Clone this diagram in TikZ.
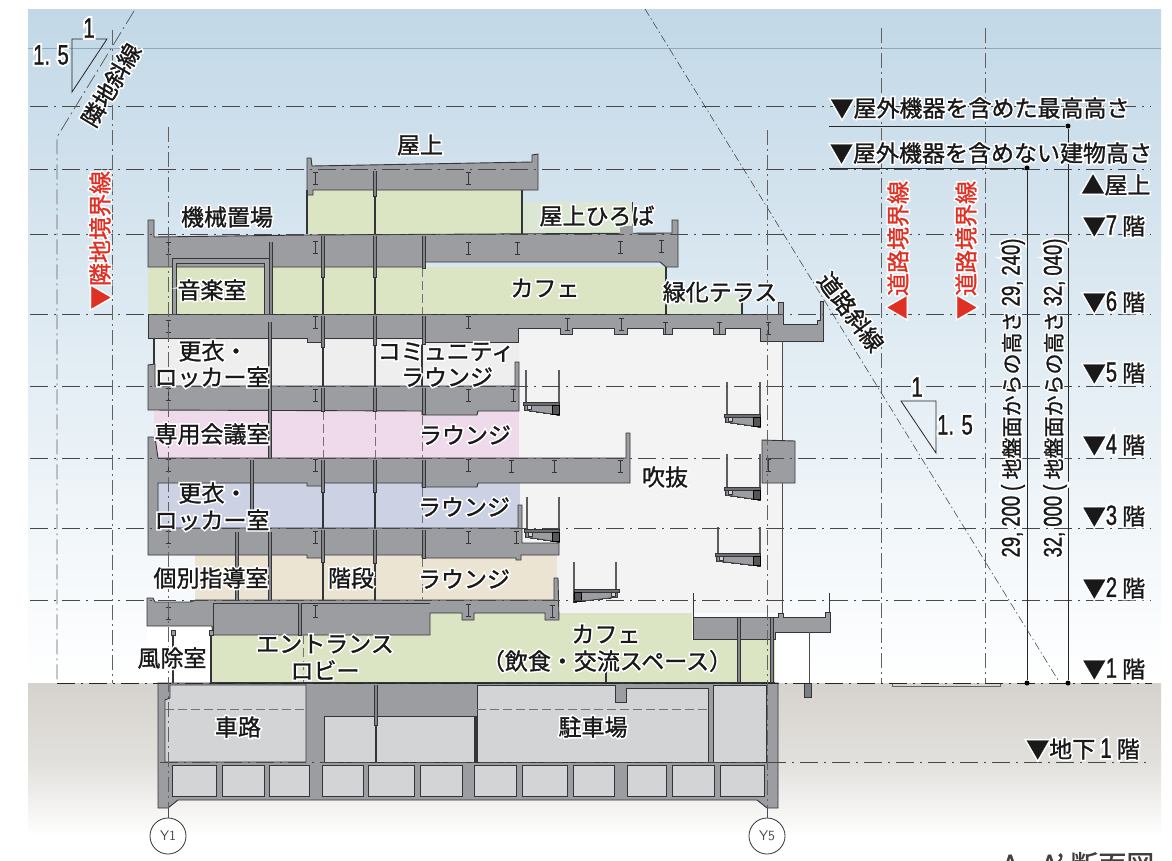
\documentclass[tikz,border=0pt]{standalone}
\usepackage{fontspec}
\setmainfont{Noto Sans CJK JP}
\newfontfamily\jpfont[FakeBold=1.2]{Noto Sans CJK JP}
\newfontfamily\jphalo[FakeBold=15]{Noto Sans CJK JP}
\newfontfamily\cfont[FakeStretch=0.72,FakeBold=1.0,Scale=1.22]{Liberation Sans}
\newfontfamily\chalo[FakeStretch=0.72,FakeBold=15,Scale=1.22]{Liberation Sans}
\newif\ifhalomode
\newcommand\cnd[1]{{\ifhalomode\chalo\else\cfont\fi #1}}
\newcommand\hl[1]{\leavevmode\makebox[0pt][l]{\halomodetrue\jphalo\color{white}#1}{\halomodefalse\jpfont #1}}
\newcommand\hlred[1]{\leavevmode\makebox[0pt][l]{\halomodetrue\jphalo\color{white}#1}{\halomodefalse\jpfont\color{redt}#1}}
\definecolor{slabc}{HTML}{9C9DA1}
\definecolor{edgec}{HTML}{343538}
\definecolor{greenr}{HTML}{DBE4C3}
\definecolor{greenl}{HTML}{DCE7D3}
\definecolor{grayr}{HTML}{EEEEEE}
\definecolor{pinkr}{HTML}{EEDAEA}
\definecolor{lavr}{HTML}{CDD1E4}
\definecolor{beiger}{HTML}{EBE4D2}
\definecolor{atrium}{HTML}{F3F3F3}
\definecolor{subr}{HTML}{D3D4D6}
\definecolor{redt}{HTML}{E03024}
\definecolor{sky1}{HTML}{C2D8E7}
\definecolor{sky2}{HTML}{DBE8F2}
\definecolor{skyline}{HTML}{8FA9BB}
\definecolor{gr1}{HTML}{D6D3CE}
\definecolor{gr2}{HTML}{E2E0DC}
\tikzset{
 slab/.style={fill=slabc,draw=edgec,line width=0.9pt,line join=miter},
 subroom/.style={fill=subr,draw=edgec,line width=0.9pt},
 lev/.style={draw=black!72,line width=0.8pt,dash pattern=on 18pt off 6pt on 2pt off 6pt},
 axis/.style={draw=black!62,line width=0.8pt,dash pattern=on 15pt off 4pt on 2pt off 4pt},
 slant/.style={draw=black!75,line width=0.55pt,dash pattern=on 8pt off 3pt on 1.5pt off 3pt},
 wall/.style={draw=edgec,line width=1.1pt},
 dashwall/.style={draw=black!55,line width=0.8pt,dash pattern=on 9pt off 4pt},
 dim/.style={draw=black!85,line width=0.9pt},
 dimdot/.style={circle,fill=black,inner sep=0pt,minimum size=5pt},
 lab/.style={inner sep=0pt,font=\fontsize{23}{25}\selectfont,text=black!90},
 gridc/.style={circle,draw=black!80,fill=white,line width=0.8pt,minimum size=36pt,inner sep=0pt,font=\fontsize{14}{16}\sffamily\selectfont,text=black!70},
}
\newcommand\colbar[3]{\fill[slabc!85!black] (#1-1.8,#2) rectangle (#1+1.8,#3);\draw[edgec,line width=0.7pt] (#1-1.8,#2)--(#1-1.8,#3)--(#1+1.8,#3)--(#1+1.8,#2);}
\newcommand\ibeam[2]{\draw[edgec,line width=0.9pt] (#1,#2-6)--(#1,#2+6) (#1-2.5,#2-6)--(#1+2.5,#2-6) (#1-2.5,#2+6)--(#1+2.5,#2+6);}
\newcommand\stair[4]{%
 \draw[edgec!80,line width=1.5pt] (#1,#3)--(#1,#4+1);
 \draw[edgec!80,line width=1.5pt] (#2,#3)--(#2,#4+12);
 \draw[fill=slabc,draw=edgec,line width=0.6pt] (#1-1,#4+3)--(#2,#4+3)--(#2,#4+13)--(#1-1,#4+8)--cycle;
 \draw[fill=slabc!70!black,draw=edgec,line width=0.7pt] (#1-3,#4)rectangle(#2,#4+3);
 \draw[fill=subr,draw=edgec,line width=0.6pt] (#1+1,#4+3.5)rectangle(#1+5,#4+7);
 \draw[fill=slabc!55!black,draw=black,line width=0.8pt] (#2-7,#4+3)rectangle(#2,#4+12);}
\newcommand\stairM[4]{%
 \draw[edgec!80,line width=1.5pt] (#1,#3)--(#1,#4+12);
 \draw[edgec!80,line width=1.5pt] (#2,#3)--(#2,#4+1);
 \draw[fill=slabc,draw=edgec,line width=0.6pt] (#1,#4+3)--(#2+1,#4+3)--(#2+1,#4+8)--(#1,#4+13)--cycle;
 \draw[fill=slabc!70!black,draw=edgec,line width=0.7pt] (#1,#4)rectangle(#2+3,#4+3);
 \draw[fill=subr,draw=edgec,line width=0.6pt] (#2-5,#4+3.5)rectangle(#2-1,#4+7);
 \draw[fill=slabc!55!black,draw=black,line width=0.8pt] (#1,#4+3)rectangle(#1+7,#4+12);}
\begin{document}
\begin{tikzpicture}[x=1pt,y=-1pt]
\useasboundingbox (0,0) rectangle (1172,860);
% ---- background
\fill[white] (0,0) rectangle (1172,860);
\shade[top color=sky1,middle color=sky2,bottom color=white] (28,9) rectangle (1161,683);
\shade[top color=gr1,bottom color=gr2] (28,683) rectangle (1161,762);
\shade[top color=gr2,bottom color=white] (28,762) rectangle (1161,836);
\draw[draw=skyline,line width=0.9pt] (28,48)--(1161,48);
% ---- rooms
\fill[atrium] (519,326) rectangle (782,613);
\fill[white] (775,632) rectangle (808,683);
\fill[white] (147,626) rectangle (211,683);
\fill[greenr] (307,190) rectangle (523,234);
\fill[greenl] (523,202) -- (632,202) -- (632,234) -- (523,234) -- cycle;
\fill[greenr] (148,267) rectangle (666,314);
\fill[greenl] (666,295) -- (742,295) -- (742,314) -- (666,314) -- cycle;
\fill[grayr] (154,338) rectangle (519,386);
\fill[pinkr] (154,411) rectangle (519,458);
\fill[lavr] (158,483) rectangle (520,528);
\fill[beiger] (195,555) rectangle (557,600);
\fill[greenr] (211,635) -- (430,635) -- (430,613) -- (692,613) -- (692,640) -- (775,640) -- (775,683) -- (211,683) -- cycle;
% ---- basement
\draw[slab] (158,683) -- (778,683) -- (778,808) -- (767,808) -- (757,800) -- (178,800) -- (168,808) -- (158,808) -- cycle;
\draw[subroom] (170,685) -- (306,685) -- (306,762) -- (165,762) -- (165,700) -- (170,698) -- cycle;
\draw[subroom] (324,716) rectangle (476,762);
\draw[subroom] (477,685) -- (615,685) -- (615,702) -- (626,702) -- (626,688) -- (708,688) -- (708,762) -- (477,762) -- cycle;
\draw[subroom] (713,685) rectangle (766,762);
\draw[dashwall] (165,709) -- (306,709) (477,709) -- (708,709);
\foreach \a/\b in {172/216,222/264,269/309,322/363,368/414,420/462,474/516,522/567,573/614,627/666,672/714,720/764}
 \draw[subroom] (\a,765) rectangle (\b,796);
\colbar{376}{685}{725}
\draw[wall] (376,725)--(376,763);
\draw[wall] (475,716)--(475,763);
\fill[slabc!80!black] (804,683) rectangle (811,697);
\draw[edgec,line width=0.6pt] (804,683) rectangle (811,697);
\draw[draw=black!60,line width=0.5pt] (892,683) -- (892,686) -- (1000,686) -- (1000,683);
% ---- slabs
\draw[slab] (307,195) -- (307,158) -- (311,158) -- (312,166) -- (532,162) -- (532,155) -- (538,154) -- (538,190) -- (313,190) -- (313,195) -- cycle;
\draw[slab] (148,267) -- (148,220) -- (154,220) -- (154,237) -- (307,235) -- (672,233) -- (672,220) -- (678,220) -- (678,267) -- (666,267) -- (660,262) -- (423,262) -- (423,267) -- cycle;
\draw[slab] (148,314) -- (778,314) -- (778,302) -- (783,302) -- (783,324) -- (817,324) -- (817,320) -- (820,320) -- (820,301) -- (823,301) -- (823,341) -- (760,341) -- (760,328) -- (725,328) -- (725,334) -- (713,334) -- (713,328) -- (672,328) -- (672,334) -- (663,334) -- (663,328) -- (627,328) -- (627,334) -- (614,334) -- (614,328) -- (572,328) -- (572,334) -- (560,334) -- (560,328) -- (518,328) -- (518,342) -- (422,342) -- (422,338) -- (323,338) -- (323,342) -- (307,342) -- (307,338) -- (148,338) -- cycle;
\draw[slab] (148,410) -- (148,365) -- (155,364) -- (155,386) -- (515,386) -- (515,362) -- (519,362) -- (519,411) -- (478,411) -- (477,415) -- (422,415) -- (422,411) -- cycle;
\draw[slab] (148,555) -- (148,437) -- (155,437) -- (158,458) -- (626,458) -- (626,433) -- (630,433) -- (630,483) -- (478,483) -- (477,487) -- (422,487) -- (422,483) -- (323,483) -- (323,486) -- (307,486) -- (307,483) -- (158,483) -- (158,528) -- (518,528) -- (518,505) -- (522,505) -- (522,543) -- (559,543) -- (559,555) -- (521,555) -- (521,560) -- (516,560) -- (516,558) -- (422,558) -- (422,555) -- (323,555) -- (323,558) -- (307,558) -- (307,555) -- cycle;
\draw[slab] (147,598) -- (153,598) -- (155,602) -- (190,602) -- (196,600) -- (554,600) -- (554,578) -- (558,578) -- (559,620) -- (545,620) -- (545,613) -- (474,613) -- (474,620) -- (462,620) -- (462,613) -- (430,613) -- (430,635) -- (213,635) -- (212,626) -- (147,626) -- cycle;
\draw[edgec,line width=0.7pt] (213,635) -- (213,603) -- (430,603);
\draw[slab] (693,617) -- (778,617) -- (778,613) -- (783,613) -- (783,617) -- (825,617) -- (825,612) -- (830,612) -- (830,632) -- (775,632) -- (775,639) -- (693,639) -- cycle;
\draw[edgec,line width=1pt] (693,617) -- (693,593) (829,612) -- (829,593);
\draw[slab] (762,440) -- (795,441) -- (795,483) -- (762,483) -- cycle;
% ---- walls and columns
\draw[wall] (307,190)--(307,234) (375,196)--(375,234) (522,190)--(522,234);
\draw[draw=edgec,line width=0.6pt] (632,202)--(632,234);
\fill[slabc] (620,226) rectangle (633,234);
\draw[fill=slabc,draw=edgec,line width=0.8pt] (172,314)--(172,258)--(269,258)--(269,314)--(264,314)--(264,263)--(176,263)--(176,314)--cycle;
\draw[wall] (323,277)--(323,314) (375,277)--(375,314) (666,267)--(666,314) (742,295)--(742,314);
\draw[dashwall] (422,268)--(422,314);
\draw[wall] (323,347)--(323,386) (375,345)--(375,386) (422,344)--(422,386) (154,338)--(154,364);
\draw[dashwall] (323,411)--(323,458) (375,411)--(375,458) (422,416)--(422,458);
\draw[wall] (323,492)--(323,528) (375,492)--(375,528);
\draw[dashwall] (422,488)--(422,528);
\draw[wall] (323,562)--(323,600) (375,563)--(375,600);
\draw[dashwall] (422,558)--(422,600);
\colbar{375}{171}{196}
\colbar{323}{236}{277}\colbar{375}{236}{277}\colbar{424}{236}{268}\colbar{271}{242}{314}
\colbar{270}{322}{458}
\colbar{323}{316}{347}\colbar{375}{316}{345}\colbar{424}{316}{344}
\colbar{323}{388}{411}\colbar{375}{388}{411}\colbar{424}{388}{414}
\colbar{252}{460}{528}
\colbar{323}{460}{492}\colbar{375}{460}{492}\colbar{424}{460}{487}
\colbar{237}{532}{600}\colbar{270}{532}{600}
\colbar{323}{530}{562}\colbar{375}{530}{563}\colbar{424}{530}{558}
\colbar{300}{603}{635}
\draw[dashwall] (303,635)--(303,683);
\draw[wall] (173,630)--(173,683) (211,630)--(211,683) (606,665)--(606,683);
\draw[edgec,line width=0.7pt,fill=slabc] (171,630) rectangle (175,635) (209,630) rectangle (213,635);
\colbar{739}{618}{683}\colbar{772}{618}{683}
\draw[draw=black!70,line width=1pt] (782,341)--(782,440) (782,483)--(782,613);
\draw[draw=black!70,line width=1pt] (809,632)--(809,683);
\draw[wall] (211,683)--(775,683);
% ---- beams
\foreach \p/\q in {315/178,468/178,
 168/248,315/247,468/248,517/248,620/247,661/246,
 168/326,315/322,468/322,567/324,621/324,665/328,719/328,768/328,
 168/394,315/395,468/395,513/395,
 168/465,315/465,468/465,511/466,554/466,620/466,768/465,
 168/537,315/537,468/537,516/537,
 168/613,315/611,468/610,552/611}
 \ibeam{\p}{\q}
% ---- stairs
\stair{526}{559}{370}{402}
\stair{727}{760}{382}{414}
\stair{727}{760}{454}{487}
\stair{527}{559}{497}{529}
\stair{718}{760}{527}{553}
\stairM{574}{616}{562}{589}
% ---- levels
\foreach \yy in {106,169,234,314,386,458,528,600} \draw[lev] (30,\yy)--(1150,\yy);
\draw[lev,draw=black!85] (57,683)--(1152,683);
\draw[lev] (160,762)--(1150,762);
\draw[axis] (112,30)--(112,683) (881,28)--(881,683) (985,28)--(985,683);
\draw[axis] (134,11)--(57,137)--(57,683);
\draw[slant] (645,9)--(1058,680);
\node[gridc] (Y1) at (168,836) {Y1};
\node[gridc] (Y5) at (767,836) {Y5};
\coordinate (y1top) at (168,127);
\coordinate (y5top) at (767,130);
\coordinate (y1low) at (168,808);
\coordinate (y5low) at (767,808);
\draw[axis] (y1top)--(y1low);
\draw[axis] (y5top)--(y5low);
\draw[draw=black!70,line width=0.7pt] (y1low)--(Y1);
\draw[draw=black!70,line width=0.7pt] (y5low)--(Y5);
% ---- dimensions
\node[dimdot] (d1) at (1068,126) {};
\node[dimdot] (d2) at (1027,168) {};
\node[dimdot] (d3) at (1027,683) {};
\node[dimdot] (d4) at (1068,683) {};
\coordinate (d1l) at (829,126);
\coordinate (d2l) at (829,168);
\draw[dim] (d1l)--(d1) (d2l)--(d2) (d1)--(d4) (d2)--(d3);
\draw[draw=black!85,line width=0.8pt] (72,92)--(72,39)--(107,39)--cycle;
\draw[draw=black!85,line width=0.8pt] (901,401)--(936,401)--(936,453)--cycle;
% ---- labels
\node[lab] (t1) at (420,145) {\hl{屋上}};
\node[lab] (t2) at (227,217) {\hl{機械置場}};
\node[lab] (t3) at (597,216) {\hl{屋上ひろば}};
\node[lab] (t4) at (212,290) {\hl{音楽室}};
\node[lab] (t5) at (545,288) {\hl{カフェ}};
\node[lab] (t6) at (720,292) {\hl{緑化テラス}};
\node[lab] (t7) at (213,351) {\hl{更衣・}};
\node[lab] (t8) at (212,377) {\hl{ロッカー室}};
\node[lab] (t9) at (446,352) {\hl{コミュニティ}};
\node[lab] (t10) at (447,377) {\hl{ラウンジ}};
\node[lab] (t11) at (212,434) {\hl{専用会議室}};
\node[lab] (t12) at (465,435) {\hl{ラウンジ}};
\node[lab] (t13) at (665,477) {\hl{吹抜}};
\node[lab] (t14) at (213,493) {\hl{更衣・}};
\node[lab] (t15) at (212,520) {\hl{ロッカー室}};
\node[lab] (t16) at (464,507) {\hl{ラウンジ}};
\node[lab] (t17) at (211,578) {\hl{個別指導室}};
\node[lab] (t18) at (351,578) {\hl{階段}};
\node[lab] (t19) at (464,579) {\hl{ラウンジ}};
\node[lab] (t20) at (606,634) {\hl{カフェ}};
\node[lab] (t21) at (607,661) {\hl{（飲食・交流スペース）}};
\node[lab] (t22) at (325,644) {\hl{エントランス}};
\node[lab] (t23) at (325,670) {\hl{ロビー}};
\node[lab] (t24) at (172,658) {\hl{風除室}};
\node[lab] (t25) at (238,727) {\hl{車路}};
\node[lab] (t26) at (593,727) {\hl{駐車場}};
\node[lab] (t27) at (980,108) {\hl{▼屋外機器を含めた最高高さ}};
\node[lab] (t28) at (991,153) {\hl{▼屋外機器を含めない建物高さ}};
\node[lab] (t29) at (1116,185) {\hl{▲屋上}};
\node[lab] (t30) at (1114,226) {\hl{▼\cnd{7} 階}};
\node[lab] (t31) at (1114,302) {\hl{▼\cnd{6} 階}};
\node[lab] (t32) at (1114,373) {\hl{▼\cnd{5} 階}};
\node[lab] (t33) at (1114,445) {\hl{▼\cnd{4} 階}};
\node[lab] (t34) at (1114,516) {\hl{▼\cnd{3} 階}};
\node[lab] (t35) at (1114,588) {\hl{▼\cnd{2} 階}};
\node[lab] (t36) at (1114,669) {\hl{▼\cnd{1} 階}};
\node[lab] (t37) at (1083,749) {\hl{▼地下 \cnd{1} 階}};
\node[lab,rotate=90] (r1) at (100,240) {\hlred{▼隣地境界線}};
\node[lab,rotate=90] (r2) at (898,250) {\hlred{▲道路境界線}};
\node[lab,rotate=90] (r3) at (966,250) {\hlred{▼道路境界線}};
\node[lab,rotate=59] (s1) at (111,85) {\hl{隣地斜線}};
\node[lab,rotate=-53] (s2) at (851,312) {\hl{道路斜線}};
\node[lab,rotate=90,font=\fontsize{21}{24}\selectfont] (v1) at (1013,398) {\hl{\cnd{29, 200 ( }地盤面からの高さ\cnd{ 29, 240)}}};
\node[lab,rotate=90,font=\fontsize{21}{24}\selectfont] (v2) at (1055,398) {\hl{\cnd{32, 000 ( }地盤面からの高さ\cnd{ 32, 040)}}};
\node[lab] (n1) at (89,28) {\hl{\cnd{1}}};
\node[lab] (n2) at (51,55) {\hl{\cnd{1. 5}}};
\node[lab] (n3) at (917,387) {\hl{\cnd{1}}};
\node[lab] (n4) at (955,425) {\hl{\cnd{1. 5}}};
\node[lab,font=\fontsize{28}{30}\selectfont] (cap) at (1078,865) {{\jpfont\color{black!75}A - A’ 断面図}};
\end{tikzpicture}
\end{document}
